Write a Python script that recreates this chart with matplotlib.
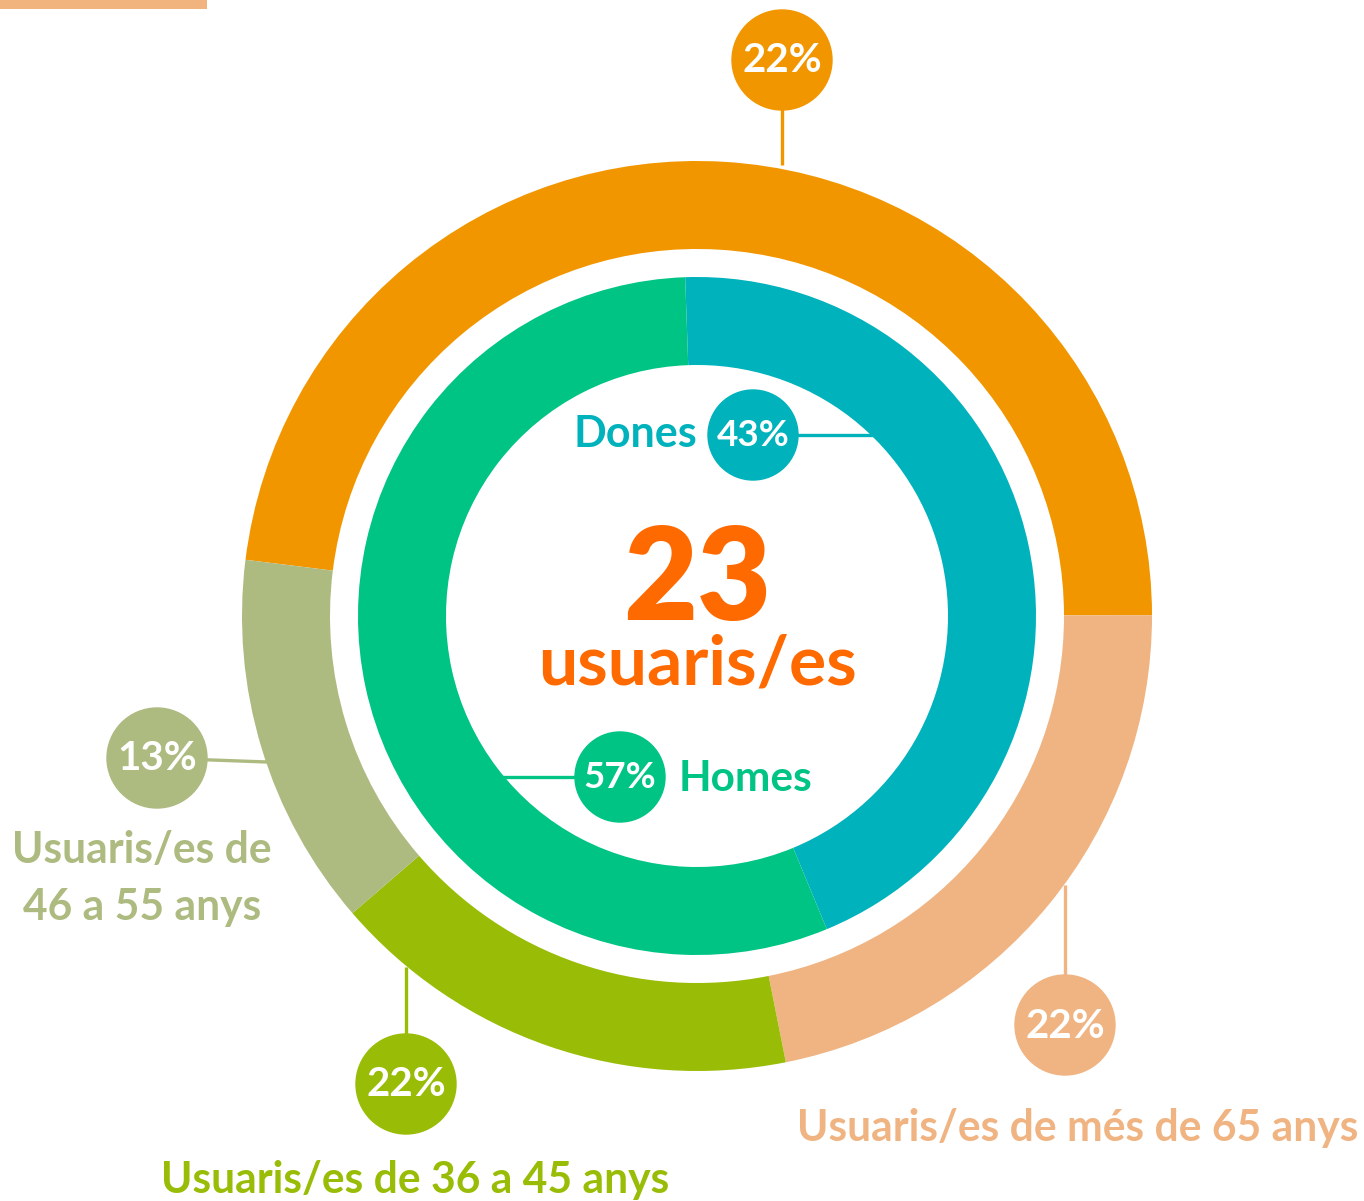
import matplotlib.pyplot as plt
from matplotlib.patches import Circle, Rectangle

# ---------- data ----------
outer_names = ['Usuaris/es de més de 65 anys', 'Usuaris/es de 36 a 45 anys',
               'Usuaris/es de', '46 a 55 anys']
outer_shares = [48.0, 21.9, 16.8, 13.3]      # arc sizes as drawn (%)
outer_labels = ['22%', '22%', '22%', '13%']   # printed percentages
outer_colors = ['#F29600', '#F0B482', '#99BC06', '#ADBA80']

inner_names = ['Dones', 'Homes']
inner_shares = [44.3, 55.7]
inner_labels = ['43%', '57%']
inner_colors = ['#00B2BC', '#00C484']

total_users = '23'
total_caption = 'usuaris/es'

W, H = 1364, 1201
cx, cy = 697, H - 616   # ring centre, y measured from the bottom

fig = plt.figure(figsize=(W / 100, H / 100), dpi=100)
ax = fig.add_axes([0, 0, 1, 1])

# outer ring: orange starts on the left and runs clockwise to 3 o'clock
ax.pie(outer_shares, colors=outer_colors, radius=455, center=(cx, cy),
       startangle=172.9, counterclock=False,
       wedgeprops=dict(width=88, linewidth=0))
# inner ring
ax.pie(inner_shares, colors=inner_colors, radius=339, center=(cx, cy),
       startangle=92, counterclock=False,
       wedgeprops=dict(width=88, linewidth=0))

ax.set_xlim(0, W)
ax.set_ylim(0, H)
ax.set_aspect('equal')
ax.axis('off')

lab_font = dict(family=['Lato', 'DejaVu Sans'], weight='bold')


def bubble(x, y, r, color, text, line_to=None, size=29):
    y = H - y
    if line_to is not None:
        lx, ly = line_to
        ax.plot([x, lx], [y, H - ly], color=color, lw=2.4,
                solid_capstyle='butt', zorder=3)
    ax.add_patch(Circle((x, y), r, color=color, zorder=4))
    ax.text(x, y - 1, text, color='white', fontsize=size, ha='center',
            va='center', zorder=5, **lab_font)


# outer ring bubbles + captions
bubble(782, 60, 50, outer_colors[0], outer_labels[0], line_to=(782, 165))
bubble(1065, 1025, 50, outer_colors[1], outer_labels[1], line_to=(1065, 885))
bubble(406, 1084, 50, outer_colors[2], outer_labels[2], line_to=(406, 967))
bubble(157, 758, 50, outer_colors[3], outer_labels[3], line_to=(267, 762))

ax.text(1078, H - 1141, outer_names[0], color=outer_colors[1], fontsize=30.7,
        ha='center', va='baseline', **lab_font)
ax.text(415, H - 1193, outer_names[1], color=outer_colors[2], fontsize=30.7,
        ha='center', va='baseline', **lab_font)
ax.text(142, H - 863, outer_names[2], color=outer_colors[3], fontsize=30.7,
        ha='center', va='baseline', **lab_font)
ax.text(142, H - 920, outer_names[3], color=outer_colors[3], fontsize=30.7,
        ha='center', va='baseline', **lab_font)

# inner ring bubbles
bubble(753, 435, 45, inner_colors[0], inner_labels[0], line_to=(875, 435), size=26.5)
bubble(620, 777, 45, inner_colors[1], inner_labels[1], line_to=(500, 777), size=26.5)
ax.text(697, H - 447, inner_names[0], color=inner_colors[0], fontsize=31,
        ha='right', va='baseline', **lab_font)
ax.text(679, H - 791, inner_names[1], color=inner_colors[1], fontsize=30.5,
        ha='left', va='baseline', **lab_font)

# centre total
ax.text(cx, H - 620, total_users, color='#FF6A00', fontsize=92,
        ha='center', va='baseline', family=['Lato', 'DejaVu Sans'], weight='heavy')
ax.text(cx, H - 685, total_caption, color='#FF6A00', fontsize=50,
        ha='center', va='baseline', family=['Lato', 'DejaVu Sans'], weight='bold')

# small peach bar in the top-left corner
ax.add_patch(Rectangle((0, H - 9), 207, 9, color='#F2B47E', lw=0))

fig.savefig('out.png', dpi=100)
